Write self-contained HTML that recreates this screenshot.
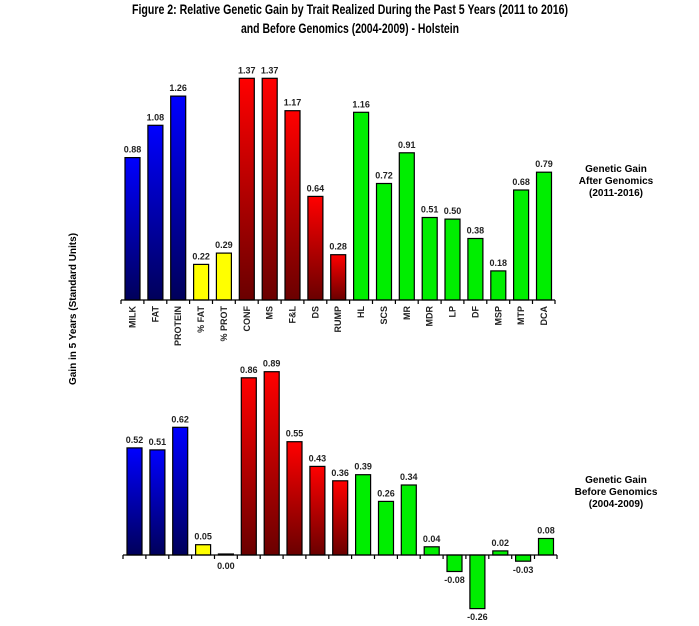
<!DOCTYPE html>
<html><head><meta charset="utf-8"><style>body{margin:0;background:#fff}svg{display:block}</style></head><body>
<svg width="699" height="626" xmlns="http://www.w3.org/2000/svg" font-family="Liberation Sans, sans-serif">
<defs>
<linearGradient id="b" x1="0" y1="0" x2="0" y2="1"><stop offset="0" stop-color="#0000ff"/><stop offset="1" stop-color="#00005a"/></linearGradient>
<linearGradient id="r" x1="0" y1="0" x2="0" y2="1"><stop offset="0" stop-color="#ff0000"/><stop offset="1" stop-color="#6a0000"/></linearGradient>
</defs>
<g font-weight="bold" font-size="14" text-anchor="middle" fill="#000">
<text x="350" y="14" textLength="436" lengthAdjust="spacingAndGlyphs">Figure 2: Relative Genetic Gain by Trait Realized  During the Past 5 Years (2011 to 2016)</text>
<text x="350" y="33" textLength="218" lengthAdjust="spacingAndGlyphs">and Before Genomics (2004-2009) - Holstein</text>
</g>
<text transform="translate(76,309) rotate(-90)" font-size="10" font-weight="bold" text-anchor="middle">Gain in 5 Years (Standard Units)</text>
<g font-size="10" font-weight="bold" text-anchor="middle">
<text x="616" y="172">Genetic Gain</text><text x="616" y="184">After Genomics</text><text x="616" y="196">(2011-2016)</text>
<text x="616" y="483">Genetic Gain</text><text x="616" y="495">Before Genomics</text><text x="616" y="507">(2004-2009)</text>
</g>
<!-- TOP -->
<g stroke="#000" stroke-width="1.2">
<rect x="125" y="157.6" width="15" height="142.4" fill="url(#b)"/>
<rect x="147.9" y="125.3" width="15" height="174.7" fill="url(#b)"/>
<rect x="170.7" y="96.1" width="15" height="203.9" fill="url(#b)"/>
<rect x="193.6" y="264.4" width="15" height="35.6" fill="#ffff00"/>
<rect x="216.4" y="253.1" width="15" height="46.9" fill="#ffff00"/>
<rect x="239.3" y="78.3" width="15" height="221.7" fill="url(#r)"/>
<rect x="262.2" y="78.3" width="15" height="221.7" fill="url(#r)"/>
<rect x="285" y="110.7" width="15" height="189.3" fill="url(#r)"/>
<rect x="307.9" y="196.4" width="15" height="103.6" fill="url(#r)"/>
<rect x="330.7" y="254.7" width="15" height="45.3" fill="url(#r)"/>
<rect x="353.6" y="112.3" width="15" height="187.7" fill="#00ee00"/>
<rect x="376.5" y="183.5" width="15" height="116.5" fill="#00ee00"/>
<rect x="399.3" y="152.8" width="15" height="147.2" fill="#00ee00"/>
<rect x="422.2" y="217.5" width="15" height="82.5" fill="#00ee00"/>
<rect x="445" y="219.1" width="15" height="80.9" fill="#00ee00"/>
<rect x="467.9" y="238.5" width="15" height="61.5" fill="#00ee00"/>
<rect x="490.8" y="270.9" width="15" height="29.1" fill="#00ee00"/>
<rect x="513.6" y="190" width="15" height="110" fill="#00ee00"/>
<rect x="536.5" y="172.2" width="15" height="127.8" fill="#00ee00"/>
<line x1="121" y1="300" x2="555" y2="300"/>
<path d="M121 300v4M143.9 300v4M166.8 300v4M189.6 300v4M212.5 300v4M235.3 300v4M258.2 300v4M281.1 300v4M303.9 300v4M326.8 300v4M349.6 300v4M372.5 300v4M395.4 300v4M418.2 300v4M441.1 300v4M463.9 300v4M486.8 300v4M509.7 300v4M532.5 300v4M555 300v4"/>
</g>
<g font-size="9" font-weight="bold" text-anchor="middle" fill="#222">
<text x="132.5" y="152.6">0.88</text><text x="155.4" y="120.3">1.08</text><text x="178.2" y="91.1">1.26</text>
<text x="201.1" y="259.4">0.22</text><text x="223.9" y="248.1">0.29</text><text x="246.8" y="73.3">1.37</text>
<text x="269.7" y="73.3">1.37</text><text x="292.5" y="105.7">1.17</text><text x="315.4" y="191.4">0.64</text>
<text x="338.2" y="249.7">0.28</text><text x="361.1" y="107.3">1.16</text><text x="384" y="178.5">0.72</text>
<text x="406.8" y="147.8">0.91</text><text x="429.7" y="212.5">0.51</text><text x="452.5" y="214.1">0.50</text>
<text x="475.4" y="233.5">0.38</text><text x="498.3" y="265.9">0.18</text><text x="521.1" y="185">0.68</text>
<text x="544" y="167.2">0.79</text>
</g>
<g font-size="9" font-weight="bold" text-anchor="end" fill="#222">
<text transform="translate(135.5,306) rotate(-90)">MILK</text>
<text transform="translate(158.4,306) rotate(-90)">FAT</text>
<text transform="translate(181.2,306) rotate(-90)">PROTEIN</text>
<text transform="translate(204.1,306) rotate(-90)">% FAT</text>
<text transform="translate(226.9,306) rotate(-90)">% PROT</text>
<text transform="translate(249.8,306) rotate(-90)">CONF</text>
<text transform="translate(272.7,306) rotate(-90)">MS</text>
<text transform="translate(295.5,306) rotate(-90)">F&amp;L</text>
<text transform="translate(318.4,306) rotate(-90)">DS</text>
<text transform="translate(341.2,306) rotate(-90)">RUMP</text>
<text transform="translate(364.1,306) rotate(-90)">HL</text>
<text transform="translate(387,306) rotate(-90)">SCS</text>
<text transform="translate(409.8,306) rotate(-90)">MR</text>
<text transform="translate(432.7,306) rotate(-90)">MDR</text>
<text transform="translate(455.5,306) rotate(-90)">LP</text>
<text transform="translate(478.4,306) rotate(-90)">DF</text>
<text transform="translate(501.3,306) rotate(-90)">MSP</text>
<text transform="translate(524.1,306) rotate(-90)">MTP</text>
<text transform="translate(547,306) rotate(-90)">DCA</text>
</g>
<!-- BOTTOM -->
<g stroke="#000" stroke-width="1.2">
<rect x="127" y="447.9" width="15" height="107.1" fill="url(#b)"/>
<rect x="149.9" y="449.9" width="15" height="105.1" fill="url(#b)"/>
<rect x="172.7" y="427.3" width="15" height="127.7" fill="url(#b)"/>
<rect x="195.6" y="544.7" width="15" height="10.3" fill="#ffff00"/>
<rect x="218.4" y="554" width="15" height="1" fill="#ffff00"/>
<rect x="241.3" y="377.8" width="15" height="177.2" fill="url(#r)"/>
<rect x="264.2" y="371.7" width="15" height="183.3" fill="url(#r)"/>
<rect x="287" y="441.7" width="15" height="113.3" fill="url(#r)"/>
<rect x="309.9" y="466.4" width="15" height="88.6" fill="url(#r)"/>
<rect x="332.7" y="480.8" width="15" height="74.2" fill="url(#r)"/>
<rect x="355.6" y="474.7" width="15" height="80.3" fill="#00ee00"/>
<rect x="378.5" y="501.4" width="15" height="53.6" fill="#00ee00"/>
<rect x="401.3" y="485" width="15" height="70" fill="#00ee00"/>
<rect x="424.2" y="546.8" width="15" height="8.2" fill="#00ee00"/>
<rect x="447" y="555" width="15" height="16.5" fill="#00ee00"/>
<rect x="469.9" y="555" width="15" height="53.6" fill="#00ee00"/>
<rect x="492.8" y="550.9" width="15" height="4.1" fill="#00ee00"/>
<rect x="515.6" y="555" width="15" height="6.2" fill="#00ee00"/>
<rect x="538.5" y="538.5" width="15" height="16.5" fill="#00ee00"/>
<line x1="123" y1="555" x2="557" y2="555"/>
<path d="M123 555v4M145.9 555v4M168.8 555v4M191.6 555v4M214.5 555v4M237.3 555v4M260.2 555v4M283.1 555v4M305.9 555v4M328.8 555v4M351.6 555v4M374.5 555v4M397.4 555v4M420.2 555v4M443.1 555v4M465.9 555v4M488.8 555v4M511.7 555v4M534.5 555v4M557 555v4"/>
</g>
<g font-size="9" font-weight="bold" text-anchor="middle" fill="#222">
<text x="134.5" y="442.9">0.52</text><text x="157.4" y="444.9">0.51</text><text x="180.2" y="422.3">0.62</text>
<text x="203.1" y="539.7">0.05</text><text x="225.9" y="569">0.00</text><text x="248.8" y="372.8">0.86</text>
<text x="271.7" y="366.7">0.89</text><text x="294.5" y="436.7">0.55</text><text x="317.4" y="461.4">0.43</text>
<text x="340.2" y="475.8">0.36</text><text x="363.1" y="469.7">0.39</text><text x="386" y="496.4">0.26</text>
<text x="408.8" y="480">0.34</text><text x="431.7" y="541.8">0.04</text><text x="454.5" y="583">-0.08</text>
<text x="477.4" y="620">-0.26</text><text x="500.3" y="545.9">0.02</text><text x="523.1" y="573">-0.03</text>
<text x="546" y="533.5">0.08</text>
</g>
</svg>
</body></html>
